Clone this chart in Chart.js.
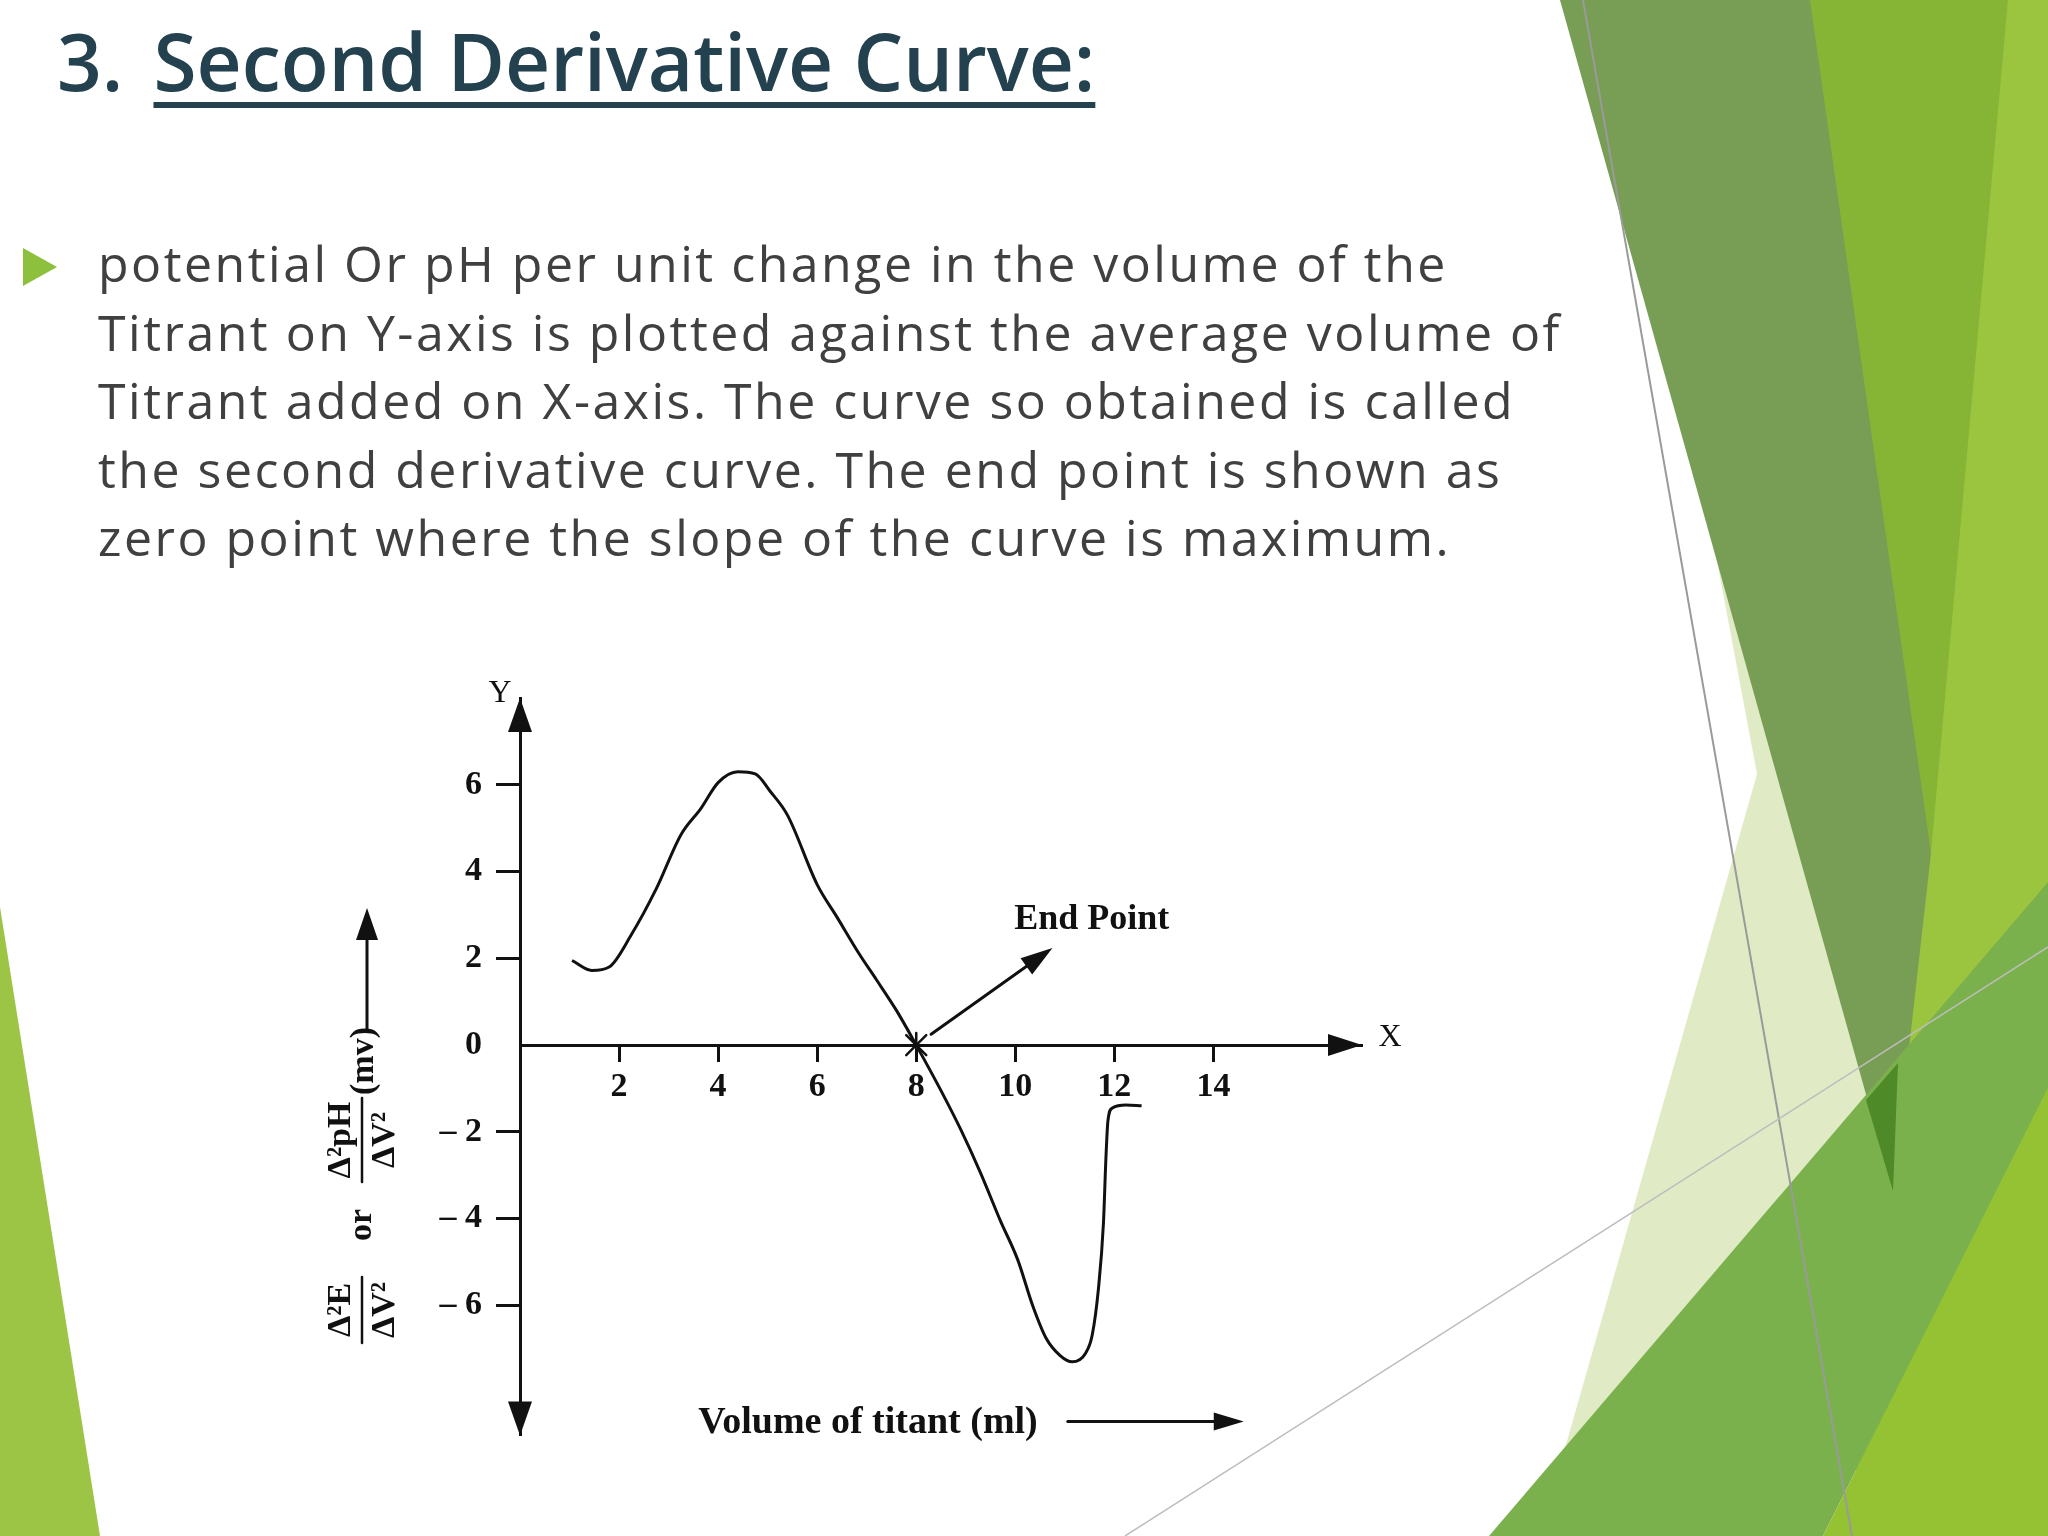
<!DOCTYPE html>
<html>
<head>
<meta charset="utf-8">
<title>3. Second Derivative Curve</title>
<script src="https://cdn.jsdelivr.net/npm/chart.js@4.4.1/dist/chart.umd.min.js"></script>
<style>
html,body{margin:0;padding:0;background:#fff;}
body{width:2048px;height:1536px;position:relative;overflow:hidden;font-family:'Open Sans',sans-serif;}
#deco{position:absolute;left:0;top:0;}
.title{position:absolute;left:57px;top:20px;font-size:80px;font-weight:600;line-height:1;color:#24414f;white-space:nowrap;transform:scaleX(.98);transform-origin:left top;}
.title u{margin-left:10px;text-decoration-thickness:6px;text-underline-offset:11px;}
.bullet{position:absolute;left:23px;top:248px;width:0;height:0;border-top:19px solid transparent;border-bottom:19px solid transparent;border-left:34px solid #8dc03c;}
.body{position:absolute;left:98px;top:229px;font-size:50px;line-height:68.5px;letter-spacing:2.5px;color:#404040;white-space:nowrap;}
#wrap{position:absolute;left:300px;top:640px;width:1150px;height:830px;}
</style>
</head>
<body>

<svg id="deco" width="2048" height="1536" viewBox="0 0 2048 1536">
  <polygon points="0,907 100,1536 0,1536" fill="#9cc545"/>
  <polygon points="1990,0 2048,0 2048,1536 1850,1536" fill="#9bc53f"/>
  <polygon points="1700,470 1893,1191 1540,1536 1757,774" fill="#e0ebc6"/>
  <polygon points="1560,0 1830,0 1931,853 1893,1191" fill="#789e56"/>
  <polygon points="1810,0 2008,0 1931,853" fill="#86b535"/>
  <polygon points="1489,1536 2048,882 2048,1088 1823,1536" fill="#7bb14d"/>
  <polygon points="1866,1100 1898,1063 1893,1191" fill="#4e8a28"/>
  <polygon points="1823,1536 2048,1088 2048,1536" fill="#94c232"/>
  <line x1="1583" y1="0" x2="1852" y2="1536" stroke="#9a9a9a" stroke-width="2"/>
  <line x1="1125" y1="1536" x2="2048" y2="947" stroke="#bdbdbd" stroke-width="1.5"/>
</svg>

<div class="title">3. <u>Second Derivative Curve:</u></div>
<div class="bullet"></div>
<div class="body">
  <div>potential Or pH per unit change in the volume of the</div>
  <div>Titrant on Y-axis is plotted against the average volume of</div>
  <div>Titrant added on X-axis. The curve so obtained is called</div>
  <div>the second derivative curve. The end point is shown as</div>
  <div>zero point where the slope of the curve is maximum.</div>
</div>

<div id="wrap"><canvas id="chart"></canvas></div>

<script>
/* data */
const volume=[1.05,1.45,1.8,2.25,2.75,3.25,3.65,4.0,4.4,4.75,5.05,5.4,6.0,6.4,6.85,7.2,7.6,8.0,
  8.5,8.9,9.3,9.7,10.05,10.35,10.62,10.9,11.15,11.42,11.55,11.68,11.78,11.83,11.87,11.96,12.24,12.55];
const d2=[1.95,1.72,1.8,2.55,3.6,4.85,5.45,6.05,6.3,6.25,5.85,5.3,3.7,2.95,2.1,1.5,0.8,0.0,
  -1.05,-1.95,-2.95,-4.05,-4.95,-6.0,-6.75,-7.15,-7.3,-7.1,-6.7,-5.6,-4.1,-2.6,-1.75,-1.45,-1.38,-1.4];
const xTicks=[2,4,6,8,10,12,14];
const yTicks=[-6,-4,-2,0,2,4,6];
const endPt=[8,0];
const endArrow=[[8.3,0.25],[10.75,2.24]];
const endLabel=[9.98,2.88];

const INK='#111';
const SERIF="'Liberation Serif','Times New Roman',serif";

function head(ctx,tx,ty,dx,dy,len,hw){
  const n=Math.hypot(dx,dy);dx/=n;dy/=n;
  const bx=tx-dx*len,by=ty-dy*len;
  ctx.beginPath();
  ctx.moveTo(tx,ty);
  ctx.lineTo(bx-dy*hw,by+dx*hw);
  ctx.lineTo(bx+dy*hw,by-dx*hw);
  ctx.closePath();ctx.fill();
}
function line(ctx,x1,y1,x2,y2){ctx.beginPath();ctx.moveTo(x1,y1);ctx.lineTo(x2,y2);ctx.stroke();}
function frac(ctx,u,num,den,w){
  ctx.fillText(num,u,-21);
  ctx.fillText(den,u,23);
  ctx.lineWidth=2.5;
  line(ctx,u-w/2,0,u+w/2,0);
}

const sketch={
  id:'sketch',
  afterDraw(chart){
    const {ctx,chartArea:a,scales:{x,y}}=chart;
    const x0=x.getPixelForValue(0),y0=y.getPixelForValue(0);
    ctx.save();
    ctx.fillStyle=INK;ctx.strokeStyle=INK;ctx.lineCap='round';

    // axis arrows
    head(ctx,x0,a.top,0,-1,34,12);
    head(ctx,x0,a.bottom,0,1,34,12);
    head(ctx,a.right,y0,1,0,34,11);
    ctx.font="32px "+SERIF;ctx.textAlign='center';ctx.textBaseline='middle';
    ctx.fillText('Y',x0-20,a.top-4);
    ctx.fillText('X',a.right+28,y0-8);

    // end point mark + arrow
    const ex=x.getPixelForValue(endPt[0]),ey=y.getPixelForValue(endPt[1]);
    ctx.lineWidth=2.5;
    line(ctx,ex-10,ey-10,ex+10,ey+10);
    line(ctx,ex-10,ey+10,ex+10,ey-10);
    line(ctx,ex,ey-12,ex,ey+14);
    const ax1=x.getPixelForValue(endArrow[0][0]),ay1=y.getPixelForValue(endArrow[0][1]);
    const ax2=x.getPixelForValue(endArrow[1][0]),ay2=y.getPixelForValue(endArrow[1][1]);
    ctx.lineWidth=3;
    line(ctx,ax1,ay1,ax2-(ax2-ax1)*0.1,ay2-(ay2-ay1)*0.1);
    head(ctx,ax2,ay2,ax2-ax1,ay2-ay1,32,10);
    ctx.font="bold 36px "+SERIF;ctx.textAlign='left';
    ctx.fillText('End Point',x.getPixelForValue(endLabel[0]),y.getPixelForValue(endLabel[1]));

    // x title with arrow
    ctx.font="bold 38px "+SERIF;ctx.textAlign='center';
    const tx=a.left+348,ty=a.bottom-12;
    ctx.fillText('Volume of titant (ml)',tx,ty);
    const tw=ctx.measureText('Volume of titant (ml)').width;
    const sx=tx+tw/2+30;
    ctx.lineWidth=3;
    line(ctx,sx,ty-2,sx+150,ty-2);
    head(ctx,sx+176,ty-2,1,0,30,9);

    // y title, rotated
    ctx.save();
    ctx.translate(a.left-158,552);
    ctx.rotate(-Math.PI/2);
    ctx.font="bold 34px "+SERIF;ctx.textAlign='center';ctx.textBaseline='middle';
    frac(ctx,-118,'\u0394\u00b2E','\u0394V\u00b2',66);
    ctx.fillText('or',-33,0);
    frac(ctx,52,'\u0394\u00b2pH','\u0394V\u00b2',84);
    ctx.fillText('(mv)',131,2);
    ctx.lineWidth=3;
    line(ctx,162,5,258,5);
    head(ctx,284,5,1,0,32,11);
    ctx.restore();

    ctx.restore();
  }
};

new Chart(document.getElementById('chart'),{
  type:'scatter',
  data:{datasets:[{
    data:volume.map((v,i)=>({x:v,y:d2[i]})),
    showLine:true,
    borderColor:INK,
    borderWidth:3,
    pointRadius:0,
    cubicInterpolationMode:'monotone',
    fill:false
  }]},
  options:{
    responsive:true,maintainAspectRatio:false,animation:false,
    layout:{padding:{left:120,top:58,right:88,bottom:33}},
    plugins:{legend:{display:false},tooltip:{enabled:false}},
    scales:{
      x:{type:'linear',min:0,max:17,position:{y:0},
        afterBuildTicks:s=>{s.ticks=xTicks.map(v=>({value:v}));},
        ticks:{color:INK,padding:7,font:{family:SERIF,size:34,weight:'bold'}},
        grid:{drawOnChartArea:false,drawTicks:true,tickLength:15,tickWidth:3,color:INK},
        border:{display:true,color:INK,width:3}},
      y:{type:'linear',min:-9,max:8,position:'left',
        afterFit:s=>{s.width=100;},
        afterBuildTicks:s=>{s.ticks=yTicks.map(v=>({value:v}));},
        ticks:{color:INK,padding:14,font:{family:SERIF,size:34,weight:'bold'},
          callback:v=>v<0?'\u2013 '+(-v):String(v)},
        grid:{drawOnChartArea:false,drawTicks:true,tickLength:24,tickWidth:3,
          color:c=>c.tick&&c.tick.value===0?'rgba(0,0,0,0)':INK},
        border:{display:true,color:INK,width:3}}
    }
  },
  plugins:[sketch]
});
</script>
</body>
</html>
